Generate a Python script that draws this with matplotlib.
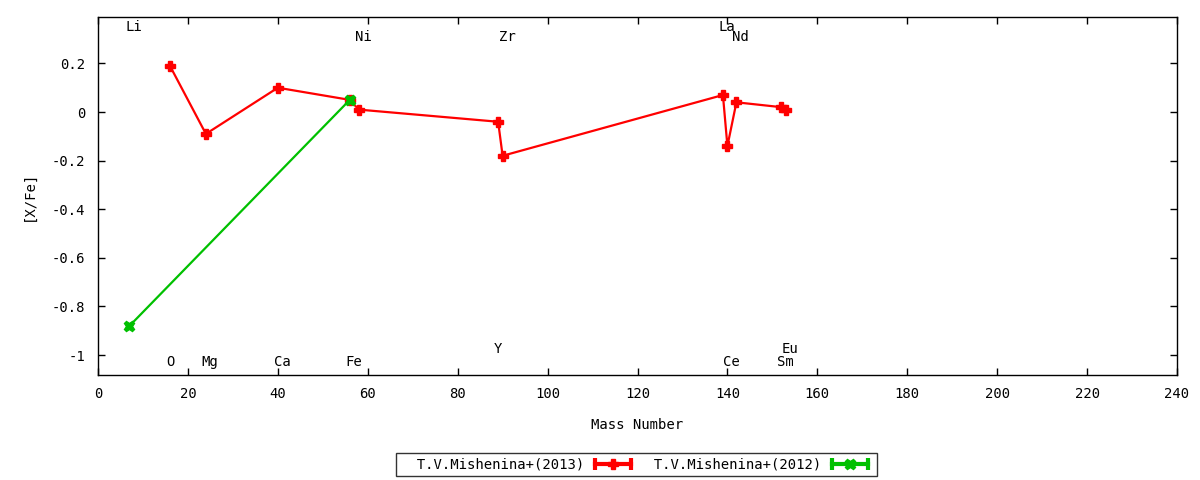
import matplotlib
matplotlib.use("Agg")
import matplotlib.pyplot as plt
from matplotlib.lines import Line2D
from matplotlib.legend_handler import HandlerLine2D, HandlerTuple
from matplotlib.ticker import FormatStrFormatter

plt.rcParams['font.family'] = ['DejaVu Sans Mono']

# Data
s2013_label = "T.V.Mishenina+(2013)"
s2013_A = [16, 24, 40, 56, 58, 89, 90, 139, 140, 142, 152, 153]
s2013_XFe = [0.19, -0.09, 0.10, 0.05, 0.01, -0.04, -0.18, 0.07, -0.14, 0.04, 0.02, 0.01]

s2012_label = "T.V.Mishenina+(2012)"
s2012_A = [7, 56]
s2012_XFe = [-0.88, 0.05]

elem_names = ["Li", "O", "Mg", "Ca", "Fe", "Ni", "Y", "Zr", "La", "Ce", "Nd", "Sm", "Eu"]
elem_A = [7, 16, 24, 40, 56, 58, 89, 90, 139, 140, 142, 152, 153]
# label row: 0 top-high, 1 top-low, 2 bottom-high, 3 bottom-low
elem_row = [0, 3, 3, 3, 3, 1, 2, 1, 0, 3, 1, 3, 2]
row_y = [0.35, 0.31, -0.975, -1.03]

x_ticks = list(range(0, 241, 20))
y_ticks = [0.2, 0, -0.2, -0.4, -0.6, -0.8, -1]

FS = 10
fig = plt.figure(figsize=(12, 4.8), dpi=100)
ax = fig.add_axes([98/1200, 1-375/480, (1177-98)/1200, (375-17)/480])

red = '#ff0000'
green = '#00c000'
ax.plot(s2013_A, s2013_XFe, color=red, lw=1.6, marker='P', ms=7.5, mec=red, mfc=red, zorder=3)
ax.plot(s2012_A, s2012_XFe, color=green, lw=1.6, marker='X', ms=7.5, mec=green, mfc=green, zorder=4)

for n, a, r in zip(elem_names, elem_A, elem_row):
    ax.text(a - 0.9, row_y[r], n, ha='left', va='center', fontsize=FS)

ax.set_xlim(0, 240)
ax.set_ylim(-1.082, 0.391)
ax.set_xticks(x_ticks)
ax.set_yticks(y_ticks)
ax.yaxis.set_major_formatter(FormatStrFormatter('%g'))
ax.tick_params(direction='in', length=5, width=1, top=True, right=True, labelsize=FS, pad=9)
for s in ax.spines.values():
    s.set_linewidth(1)

ax.set_xlabel("Mass Number", fontsize=FS, labelpad=12)
ax.set_ylabel("[X/Fe]", fontsize=FS, labelpad=12)

# legend handles in gnuplot style: |--+--|
def make_handles(color, marker):
    ends = Line2D([], [], color=color, lw=3, marker='|', ms=8, mew=3)
    mid = Line2D([], [], color=color, lw=0, marker=marker, ms=7.5, mec=color, mfc=color)
    return ends, mid

e1, m1 = make_handles(red, 'P')
e2, m2 = make_handles(green, 'X')
hmap = {e1: HandlerLine2D(numpoints=2), e2: HandlerLine2D(numpoints=2),
        m1: HandlerLine2D(numpoints=1), m2: HandlerLine2D(numpoints=1),
        tuple: HandlerTuple(ndivide=1)}
leg = fig.legend([(e1, m1), (e2, m2)], ["  " + s2013_label, "  " + s2012_label],
                 handler_map=hmap, loc='center', bbox_to_anchor=(636/1200, 1-464.5/480),
                 ncol=2, markerfirst=False, frameon=True, fancybox=False,
                 edgecolor='black', fontsize=FS, handlelength=3.2,
                 borderpad=0.3, columnspacing=0.1, handletextpad=0.5,
                 borderaxespad=0)
leg.get_frame().set_linewidth(1)

fig.savefig("out.png", dpi=100)
